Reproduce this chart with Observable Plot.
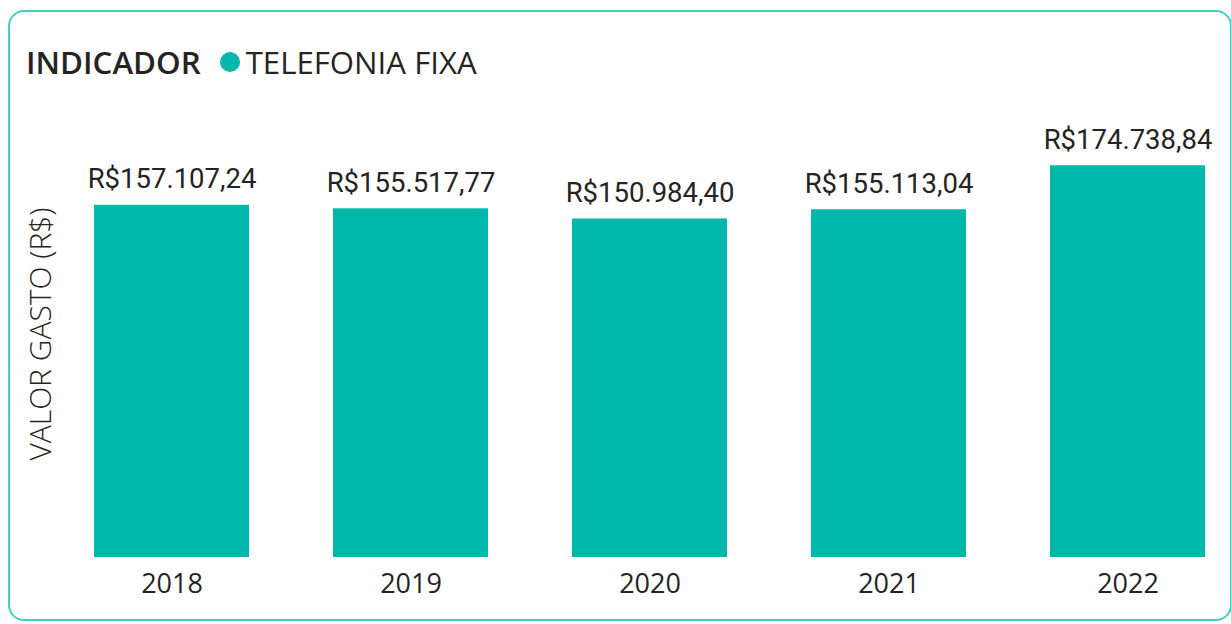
<!DOCTYPE html>
<html>
<head>
<meta charset="utf-8">
<script src="https://cdn.jsdelivr.net/npm/d3@7"></script>
<script src="https://cdn.jsdelivr.net/npm/@observablehq/plot@0.6"></script>
<style>
  html, body { margin: 0; padding: 0; background: #fff; }
  #wrap { position: relative; width: 1231px; height: 624px; overflow: hidden; background: #fff; }
  #card { position: absolute; left: 8px; top: 10px; width: 1224px; height: 611px; box-sizing: border-box;
          border: 2px solid #44cfc0; border-radius: 16px; }
  #legend { position: absolute; left: 26px; top: 42px; height: 40px; display: flex; align-items: center;
            font-family: "Open Sans", sans-serif; font-size: 31.3px; color: #252423; white-space: nowrap; }
  #legend .title { font-weight: 600; margin-right: 19px; }
  #legend .dot { width: 20px; height: 20px; border-radius: 50%; background: #01B8AA; margin-right: 6px; }
  #legend .series { font-size: 31.2px; }
  #chart { position: absolute; left: 0; top: 90px; }
</style>
</head>
<body>
<div id="wrap">
  <div id="card"></div>
  <div id="legend"><span class="title">INDICADOR</span><span class="dot"></span><span class="series">TELEFONIA FIXA</span></div>
  <div id="chart"></div>
</div>
<script>
const years = ["2018", "2019", "2020", "2021", "2022"];
const values = [157107.24, 155517.77, 150984.40, 155113.04, 174738.84];
const yLabel = "VALOR GASTO (R$)";
const seriesName = "TELEFONIA FIXA";

const data = years.map((y, i) => ({year: y, value: values[i]}));
const brl = d3.formatLocale({decimal: ",", thousands: ".", grouping: [3], currency: ["R$", ""]}).format("$,.2f");

const plot = Plot.plot({
  width: 1231,
  height: 520,
  marginTop: 0,
  marginBottom: 53,
  marginLeft: 0,
  marginRight: 0,
  style: {background: "transparent", overflow: "visible"},
  x: {type: "band", domain: years, range: [51, 1247], paddingInner: 0.3517, paddingOuter: 0.176},
  y: {domain: [0, 208300], axis: null},
  marks: [
    Plot.barY(data, {x: "year", y: "value", fill: "#01B8AA"}),
    Plot.text(data, {x: "year", y: "value", text: d => brl(d.value), lineAnchor: "bottom", dy: -17,
      fontFamily: "Roboto, sans-serif", fontSize: 27.5, fill: "#252423"}),
    Plot.axisX({tickSize: 0, tickPadding: 16, fontSize: 27, label: null,
      fontFamily: "'Open Sans', sans-serif", color: "#252423"}),
    Plot.text([yLabel], {frameAnchor: "left", textAnchor: "middle", rotate: -90, dx: 41, dy: 10,
      fontSize: 30, fontWeight: 300, fontFamily: "'Open Sans', sans-serif", fill: "#252423"})
  ]
});
document.getElementById("chart").appendChild(plot);
</script>
</body>
</html>
